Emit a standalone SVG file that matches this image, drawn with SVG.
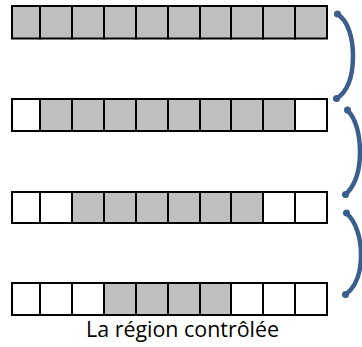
<svg xmlns="http://www.w3.org/2000/svg" width="362" height="347" viewBox="0 0 362 347">
<style>
.c{stroke:#000;stroke-width:2;}
.g{fill:#BFBFBF;}
.w{fill:#FFFFFF;}
.br{fill:none;stroke:#3A5F8F;stroke-width:4.5;stroke-linecap:round;}
.end{fill:#3A5F8F;}
.lbl{font-family:"Open Sans","Liberation Sans",sans-serif;font-size:22px;fill:#000;}
</style>
<rect width="362" height="347" fill="#fff"/>
<g id="row1">
<rect class="c g" x="12" y="6" width="28" height="32.5"/>
<rect class="c g" x="40" y="6" width="32" height="32.5"/>
<rect class="c g" x="72" y="6" width="32" height="32.5"/>
<rect class="c g" x="104" y="6" width="32" height="32.5"/>
<rect class="c g" x="136" y="6" width="32" height="32.5"/>
<rect class="c g" x="168" y="6" width="32" height="32.5"/>
<rect class="c g" x="200" y="6" width="31" height="32.5"/>
<rect class="c g" x="231" y="6" width="32" height="32.5"/>
<rect class="c g" x="263" y="6" width="32" height="32.5"/>
<rect class="c g" x="295" y="6" width="32" height="32.5"/>
</g>
<g id="row2">
<rect class="c w" x="12" y="99" width="28" height="32"/>
<rect class="c g" x="40" y="99" width="32" height="32"/>
<rect class="c g" x="72" y="99" width="32" height="32"/>
<rect class="c g" x="104" y="99" width="32" height="32"/>
<rect class="c g" x="136" y="99" width="32" height="32"/>
<rect class="c g" x="168" y="99" width="32" height="32"/>
<rect class="c g" x="200" y="99" width="31" height="32"/>
<rect class="c g" x="231" y="99" width="32" height="32"/>
<rect class="c g" x="263" y="99" width="32" height="32"/>
<rect class="c w" x="295" y="99" width="32" height="32"/>
</g>
<g id="row3">
<rect class="c w" x="12" y="192" width="28" height="31"/>
<rect class="c w" x="40" y="192" width="32" height="31"/>
<rect class="c g" x="72" y="192" width="32" height="31"/>
<rect class="c g" x="104" y="192" width="32" height="31"/>
<rect class="c g" x="136" y="192" width="32" height="31"/>
<rect class="c g" x="168" y="192" width="32" height="31"/>
<rect class="c g" x="200" y="192" width="31" height="31"/>
<rect class="c g" x="231" y="192" width="32" height="31"/>
<rect class="c w" x="263" y="192" width="32" height="31"/>
<rect class="c w" x="295" y="192" width="32" height="31"/>
</g>
<g id="row4">
<rect class="c w" x="12" y="283" width="28" height="32"/>
<rect class="c w" x="40" y="283" width="32" height="32"/>
<rect class="c w" x="72" y="283" width="32" height="32"/>
<rect class="c g" x="104" y="283" width="32" height="32"/>
<rect class="c g" x="136" y="283" width="32" height="32"/>
<rect class="c g" x="168" y="283" width="32" height="32"/>
<rect class="c g" x="200" y="283" width="31" height="32"/>
<rect class="c w" x="231" y="283" width="32" height="32"/>
<rect class="c w" x="263" y="283" width="32" height="32"/>
<rect class="c w" x="295" y="283" width="32" height="32"/>
</g>
<g id="connectors">
<path class="br" d="M337,14 C348,20 353,38 353,56 C353,76 349,91 336,99"/>
<path class="br" d="M347,110 C356,118 360,135 360,152 C360,172 355,186 345,195"/>
<path class="br" d="M346,213 C356,221 361,238 361,255 C361,274 356,287 345,295"/>
<circle class="end" cx="337.5" cy="14" r="3.5"/>
<circle class="end" cx="336.5" cy="98.5" r="3.5"/>
<circle class="end" cx="347.5" cy="110" r="3.5"/>
<circle class="end" cx="345.5" cy="194.5" r="3.5"/>
<circle class="end" cx="346.5" cy="213" r="3.5"/>
<circle class="end" cx="345.5" cy="294.5" r="3.5"/>
</g>
<g id="label">
<text class="lbl" x="86" y="337" textLength="193" lengthAdjust="spacingAndGlyphs">La région contrôlée</text>
</g>
</svg>
